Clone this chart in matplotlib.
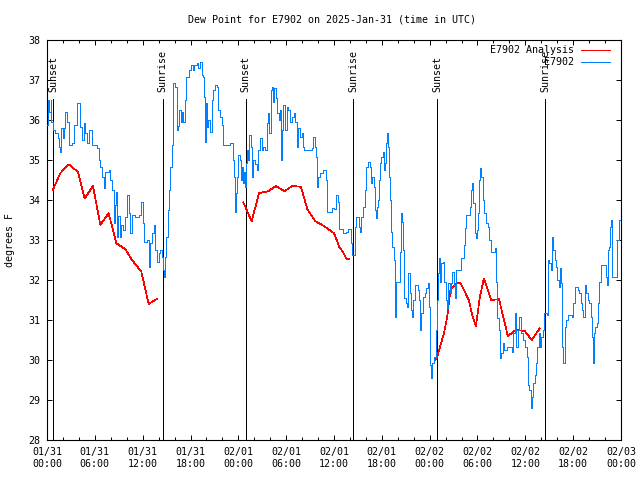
import matplotlib
matplotlib.use("Agg")
import matplotlib.pyplot as plt
from matplotlib.lines import Line2D

plt.rcParams['font.family'] = ['DejaVu Sans Mono']

title = "Dew Point for E7902 on 2025-Jan-31 (time in UTC)"
ylabel = "degrees F"
xtick_hours = [0, 6, 12, 18, 24, 30, 36, 42, 48, 54, 60, 66, 72]
xtick_labels = ["01/31\n00:00", "01/31\n06:00", "01/31\n12:00", "01/31\n18:00",
                "02/01\n00:00", "02/01\n06:00", "02/01\n12:00", "02/01\n18:00",
                "02/02\n00:00", "02/02\n06:00", "02/02\n12:00", "02/02\n18:00",
                "02/03\n00:00"]
yticks = [28, 29, 30, 31, 32, 33, 34, 35, 36, 37, 38]

sun_hours = [0.79, 14.5, 24.9, 38.4, 48.96, 62.5]
sun_labels = ["Sunset", "Sunrise", "Sunset", "Sunrise", "Sunset", "Sunrise"]

# E7902 Analysis (night segments)
ana1_h = [0.71, 1.67, 2.76, 3.89, 4.73, 5.77, 6.69, 7.73, 8.70, 9.83, 10.66, 11.83, 12.75, 13.8]
ana1_v = [34.24, 34.67, 34.89, 34.70, 34.04, 34.35, 33.38, 33.67, 32.92, 32.77, 32.5, 32.21, 31.4, 31.53]
ana2_h = [24.63, 25.67, 26.6, 27.76, 28.73, 29.77, 30.77, 31.86, 32.65, 33.66, 34.66, 36.0, 36.7, 37.1, 37.6, 37.96]
ana2_v = [33.94, 33.47, 34.17, 34.22, 34.35, 34.22, 34.35, 34.33, 33.77, 33.47, 33.36, 33.17, 32.81, 32.71, 32.52, 32.52]
ana3_h = [48.7, 48.9, 49.35, 49.8, 50.2, 50.6, 51.35, 51.9, 52.4, 52.9, 53.4, 53.8, 54.3, 54.8,
          55.7, 56.7, 57.8, 58.8, 59.9, 60.8, 61.8]
ana3_v = [30.0, 30.05, 30.37, 30.67, 31.08, 31.75, 31.92, 31.92, 31.71, 31.5, 31.08, 30.85, 31.58, 32.04,
          31.5, 31.52, 30.6, 30.75, 30.73, 30.5, 30.79]

# E7902 observations
obs_h = [0.0, 0.13, 0.3, 0.45, 0.55, 0.75, 1.05, 1.34, 1.55, 1.67, 1.8, 2.0, 2.09, 2.3, 2.5, 2.72, 3.1, 3.34,
         3.76, 4.1, 4.18, 4.39, 4.6, 4.8, 5.0, 5.3, 5.64, 6.27, 6.48, 6.69, 6.9, 7.1, 7.3, 7.73, 7.94, 8.15,
         8.36, 8.49, 8.65, 8.78, 8.9, 9.1, 9.28, 9.53, 9.82, 10.03, 10.24, 10.37, 10.66, 11.08, 11.5, 11.83,
         12.04, 12.2, 12.54, 12.75, 12.96, 13.17, 13.38, 13.59, 13.8, 14.0, 14.2, 14.42, 14.55, 14.72, 14.84,
         14.97, 15.13, 15.26, 15.47, 15.68, 15.8, 16.1, 16.3, 16.45, 16.6, 16.75, 16.93, 17.1, 17.27, 17.47,
         17.77, 18.06,
         18.3, 18.5, 18.78, 19.0, 19.2, 19.4, 19.6, 19.7, 19.82, 19.95, 20.05, 20.24, 20.45, 20.66, 20.87,
         21.08, 21.3, 21.5, 21.7, 21.9, 22.12, 22.96, 23.29, 23.37, 23.5, 23.58, 23.71, 23.88, 24.0, 24.21,
         24.3, 24.42, 24.55, 24.7, 24.84, 24.96, 25.13, 25.26, 25.38, 25.55, 25.67, 25.88, 26.1, 26.3, 26.51,
         26.72, 26.93, 27.14, 27.35, 27.56, 27.76, 27.89, 28.06, 28.23, 28.4, 28.52, 28.7, 28.9, 29.06, 29.23,
         29.35, 29.48, 29.65, 29.85, 30.06, 30.27, 30.48, 30.7, 30.98, 31.15, 31.32, 31.53, 31.74, 31.95,
         32.07, 32.24, 33.2, 33.41, 33.62, 33.74, 33.91, 34.04, 34.24, 34.58, 35.0, 35.16, 35.71, 36.0,
         36.3, 36.5, 36.63, 37.13, 37.47, 37.76, 38.1, 38.22, 38.6, 38.72, 39.14, 39.2, 39.4, 39.64, 39.85,
         40.06, 40.27, 40.48, 40.69, 40.81, 40.98, 41.11, 41.23, 41.4, 41.52, 41.65, 41.82, 41.94, 42.15,
         42.28, 42.44, 42.57, 42.7, 42.82, 42.9, 43.07, 43.2, 43.32, 43.49, 43.61, 43.7, 43.82, 44.24, 44.37,
         44.49, 44.66, 44.78, 44.99, 45.16, 45.33, 45.5, 45.66, 45.79, 45.91, 46.12, 46.54, 46.67, 46.83,
         46.96, 47.17, 47.38, 47.6, 47.75, 47.92, 48.0, 48.09, 48.21, 48.34, 48.55, 48.76, 48.93, 49.05,
         49.18, 49.26, 49.47, 49.68, 49.8, 50.0, 50.18, 50.35, 50.51, 50.72, 50.85, 51.01, 51.18, 51.35,
         51.9, 52.31, 52.44, 52.6, 53.02, 53.15, 53.27, 53.44, 53.65, 53.77, 53.94,
         54.02, 54.23, 54.35, 54.48, 54.65, 54.86, 55.06, 55.27, 55.48, 55.69, 56.23, 56.32, 56.49, 56.74,
         56.86, 56.99, 57.15, 57.36, 57.66, 58.33, 58.49, 58.66, 58.83, 59.04, 59.24, 59.45, 59.66, 59.99,
         60.16, 60.33, 60.5, 60.67, 60.83, 61.0, 61.17, 61.34, 61.5, 61.67, 61.84, 62.0, 62.17, 62.34, 62.67,
         62.84, 63.0, 63.17, 63.34, 63.51, 63.68, 63.84, 64.01, 64.18, 64.35, 64.51, 64.6, 64.76, 64.93,
         65.1, 65.31, 65.85, 66.02, 66.18, 66.56, 66.77, 66.94, 67.1, 67.27, 67.44, 67.61, 67.82, 68.02,
         68.19, 68.36, 68.44, 68.61, 68.78, 68.94, 69.11, 69.28, 69.45, 70.11, 70.24, 70.4, 70.53, 70.66,
         70.79, 70.91, 71.54, 71.71, 72.0]
obs_v = [35.87, 36.5, 36.21, 36.5, 35.96, 35.75, 35.67, 35.54, 35.33, 35.21, 35.79, 35.54, 35.79, 36.21,
         35.96, 35.37, 35.42, 35.87, 36.42, 36.29, 35.83, 35.5, 35.92, 35.67, 35.42, 35.75, 35.37, 35.29,
         35.0, 34.83, 34.58, 34.29, 34.71, 34.75, 34.5, 34.25, 33.42, 33.87, 34.2, 33.08, 33.6, 33.08, 33.37,
         33.25, 33.58, 34.12, 33.67, 33.17, 33.62, 33.58, 33.62, 33.96, 33.42, 32.96, 33.0, 32.33, 32.92,
         33.17, 33.37, 32.75, 32.46, 32.67, 32.75, 32.58, 32.25, 32.08, 32.58, 33.08, 33.75, 34.25, 34.83,
         35.37, 36.92, 36.83, 35.75, 35.85, 36.25, 35.95, 36.21, 35.95, 36.5, 37.08, 37.25, 37.37,
         37.25, 37.37, 37.42, 37.3, 37.46, 37.12, 37.08, 36.58, 35.46, 36.42, 35.83, 36.0, 35.71, 36.5, 36.75,
         36.87, 36.83, 36.25, 36.08, 35.87, 35.37, 35.42, 35.37, 35.0, 34.58, 33.71, 34.17, 34.58, 35.12,
         35.0, 34.5, 34.83, 34.42, 34.7, 34.33, 34.92, 35.25, 35.0, 35.62, 35.33, 34.58, 35.0, 34.9, 34.75,
         35.25, 35.54, 35.25, 35.33, 35.25, 35.92, 36.17, 35.67, 36.75, 36.83, 36.46, 36.79, 36.54, 36.17,
         36.0, 36.25, 35.0, 35.75, 36.37, 35.75, 36.33, 36.25, 35.96, 36.08, 36.17, 35.96, 35.33, 35.79,
         35.58, 35.67, 35.33, 35.25, 35.29, 35.58, 35.33, 35.08, 34.33, 34.58, 34.67, 34.75, 34.5, 33.71,
         33.79, 33.77,
         34.12, 33.96, 33.27, 33.17, 33.21, 33.27, 32.92, 32.62, 33.33, 33.57, 33.33, 33.21, 33.58, 33.83,
         34.25, 34.83, 34.96, 34.83, 34.42, 34.58, 34.33, 33.75, 33.54, 33.83, 34.0, 34.5, 34.92, 35.08,
         35.21, 34.75, 34.92, 35.42, 35.67, 35.33, 34.58, 34.0, 33.21, 32.83, 32.5, 31.96, 31.08, 31.96,
         32.71, 33.67, 33.46, 32.75, 31.54, 31.42, 31.33, 32.17, 31.67, 31.25, 31.08, 31.5, 31.87, 31.75,
         31.5, 30.75, 31.17, 31.58, 31.67, 31.79, 31.92, 31.33, 30.5, 29.87, 29.54, 29.92, 30.08, 30.75,
         31.5, 32.17, 32.54, 31.96, 32.42, 32.46, 31.96, 31.5, 31.29, 31.92, 31.67, 31.92, 32.21, 31.87,
         31.54, 32.25, 32.54, 32.87, 33.29, 33.62, 33.83, 34.25, 34.42, 33.92, 33.17, 33.04, 33.25,
         33.67, 34.5, 34.79, 34.58, 34.0, 33.67, 33.42, 33.33, 33.0, 32.71, 32.79, 31.96, 31.04, 30.75,
         30.04, 30.17, 30.42, 30.25, 30.33, 30.21, 30.67, 31.17, 30.33, 30.75, 31.08, 30.67, 30.5, 30.33,
         30.08, 29.37, 29.25, 28.79, 29.08, 29.42, 29.62, 29.92, 30.33, 30.67, 30.33, 30.58, 30.75, 31.17,
         31.12, 32.5, 32.42, 32.25, 33.08, 32.75, 32.5, 32.33, 32.0, 31.83, 32.29, 31.92, 30.33, 29.92,
         30.83, 31.0, 31.12, 31.08, 31.42, 31.83, 31.75, 31.67, 31.42, 31.25, 31.08, 31.87, 31.67, 31.5,
         31.42, 31.08, 30.58, 29.92, 30.67, 30.83, 30.92, 31.42, 31.96, 32.37, 32.08, 31.87, 32.75, 32.83,
         33.33, 33.5, 32.08, 33.0, 33.5, 33.5]

RED = '#ff0000'
BLUE = '#0080ff'
FS = 7.2
LW = 0.6

fig = plt.figure(figsize=(6.4, 4.8), dpi=100)
W, H = 640, 480
L, R, T, B = 47, 621, 40, 440
ax = fig.add_axes([L / W, 1 - B / H, (R - L) / W, (B - T) / H])

for h, lab in zip(sun_hours, sun_labels):
    ax.plot([h, h], [28, 36.52], color='black', lw=0.7, antialiased=False, zorder=2)
    ax.text(h, 36.7, lab, rotation=90, ha='center', va='bottom', fontsize=FS, zorder=3)

for hh, vv in [(ana1_h, ana1_v), (ana2_h, ana2_v), (ana3_h, ana3_v)]:
    ax.plot(hh, vv, color=RED, lw=0.5, antialiased=False, zorder=4)

ax.plot(obs_h, obs_v, color=BLUE, lw=LW, drawstyle='steps-post', antialiased=False, zorder=5)

ax.set_xlim(0, 72)
ax.set_ylim(28, 38)
ax.set_xticks(xtick_hours)
ax.set_xticklabels(xtick_labels, fontsize=FS, linespacing=1.25)
ax.set_xticks(list(range(0, 73, 2)), minor=True)
ax.set_yticks(yticks)
ax.set_yticklabels([str(v) for v in yticks], fontsize=FS)
ax.tick_params(axis='both', which='major', direction='in', length=3.8, width=0.7,
               top=True, right=True, pad=5)
ax.tick_params(axis='x', which='minor', direction='in', length=2.2, width=0.7, top=True)
for s in ax.spines.values():
    s.set_linewidth(0.8)

fig.text(332 / W, 1 - 20 / H, title, ha='center', va='center', fontsize=FS)
fig.text(10 / W, 1 - 240 / H, ylabel, ha='center', va='center', rotation=90, fontsize=FS)

# legend
leg_items = [("E7902 Analysis", RED, 50), ("E7902", BLUE, 62)]
for lab, col, yy in leg_items:
    fig.text(574 / W, 1 - yy / H, lab, ha='right', va='center', fontsize=FS, zorder=6)
    fig.add_artist(Line2D([581 / W, 610 / W], [1 - yy / H, 1 - yy / H], color=col, lw=LW,
                          antialiased=False, transform=fig.transFigure))

fig.savefig("out.png", dpi=100)
